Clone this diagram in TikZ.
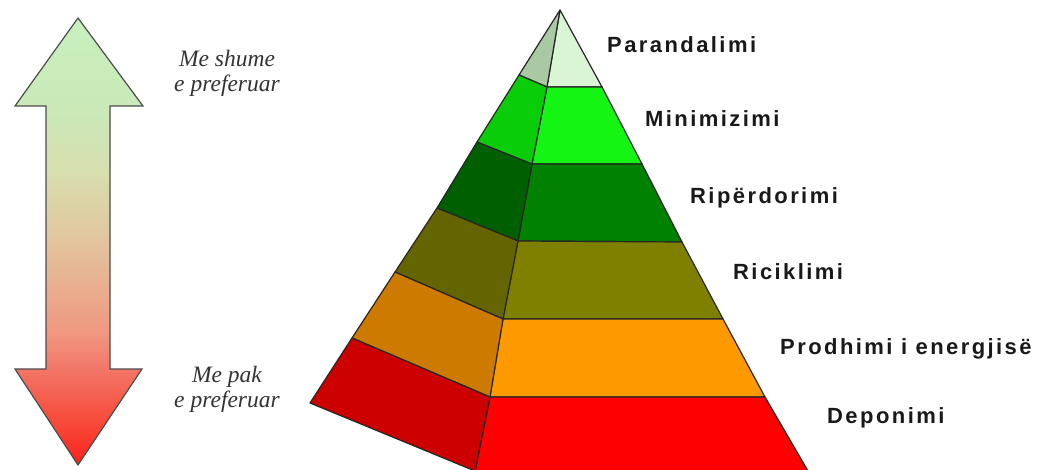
\documentclass[tikz,border=0pt]{standalone}
\usepackage{fontspec}
\setmainfont{Liberation Serif}
\newfontfamily\lblfont[LetterSpace=11]{Liberation Sans Bold}
\definecolor{sa}{RGB}{200,240,190}
\definecolor{sb}{RGB}{200,234,184}
\definecolor{sc}{RGB}{215,224,176}
\definecolor{sd}{RGB}{224,200,160}
\definecolor{se}{RGB}{232,176,144}
\definecolor{sf}{RGB}{240,152,128}
\definecolor{sg}{RGB}{242,120,104}
\definecolor{sh}{RGB}{248,64,48}
\definecolor{si}{RGB}{255,32,32}
\pgfdeclareverticalshading{arrshade}{100bp}{color(0bp)=(si); color(25bp)=(si); color(28.6bp)=(sh); color(36bp)=(sg); color(39.8bp)=(sf); color(45.4bp)=(se); color(51bp)=(sd); color(58.3bp)=(sc); color(65.8bp)=(sb); color(75bp)=(sa); color(100bp)=(sa)}
\definecolor{fa}{RGB}{217,245,213}\definecolor{la}{RGB}{169,201,163}
\definecolor{fb}{RGB}{20,245,20}\definecolor{lb}{RGB}{10,205,10}
\definecolor{fc}{RGB}{0,130,0}\definecolor{lc}{RGB}{0,95,0}
\definecolor{fd}{RGB}{128,128,0}\definecolor{ld}{RGB}{100,100,0}
\definecolor{fe}{RGB}{255,153,0}\definecolor{le}{RGB}{204,122,0}
\definecolor{ff}{RGB}{255,0,0}\definecolor{lf}{RGB}{204,0,0}
\tikzset{
  face/.style={draw=black!85, line width=1.2pt, line join=round},
  lbl/.style={anchor=base west, inner sep=0pt, text=black!90, font=\lblfont\fontsize{22}{26}\selectfont},
  pref/.style={align=center, inner sep=0pt, text=black!80, font=\itshape\fontsize{23.5}{25}\selectfont},
  bigarrow/.style={draw=black!70, line width=1.2pt, line join=miter, shading=arrshade},
}
\begin{document}
\begin{tikzpicture}[x=1pt,y=-1pt]
\useasboundingbox (0,0) rectangle (1039,469);
\clip (0,0) rectangle (1039,469);
% double arrow
\shadedraw[bigarrow] (78,18) -- (143,106) -- (110,106) -- (110,369) -- (142,369) -- (78,465)
  -- (15,369) -- (46,369) -- (46,106) -- (15,106) -- cycle;
\node[pref] (more) at (227,73) {Me shume\\e preferuar};
\node[pref] (less) at (227,389) {Me pak\\e preferuar};
% pyramid coordinates
\coordinate (A) at (560,10);
\coordinate (R1) at (602,87);\coordinate (R2) at (642,164);\coordinate (R3) at (682,242);
\coordinate (R4) at (723,319);\coordinate (R5) at (765,397);\coordinate (R6) at (808,471);
\coordinate (C1) at (547,87);\coordinate (C2) at (532,164);\coordinate (C3) at (518,241);
\coordinate (C4) at (503,319);\coordinate (C5) at (490,397);\coordinate (C6) at (475,471);
\coordinate (L1) at (519,75);\coordinate (L2) at (477,142);\coordinate (L3) at (437,208);
\coordinate (L4) at (395,272);\coordinate (L5) at (352,338);\coordinate (L6) at (310,403);
% front faces
\filldraw[face, fill=fa] (A) -- (R1) -- (C1) -- cycle;
\filldraw[face, fill=fb] (C1) -- (R1) -- (R2) -- (C2) -- cycle;
\filldraw[face, fill=fc] (C2) -- (R2) -- (R3) -- (C3) -- cycle;
\filldraw[face, fill=fd] (C3) -- (R3) -- (R4) -- (C4) -- cycle;
\filldraw[face, fill=fe] (C4) -- (R4) -- (R5) -- (C5) -- cycle;
\filldraw[face, fill=ff] (C5) -- (R5) -- (R6) -- (C6) -- cycle;
% left faces
\filldraw[face, fill=la] (A) -- (C1) -- (L1) -- cycle;
\filldraw[face, fill=lb] (L1) -- (C1) -- (C2) -- (L2) -- cycle;
\filldraw[face, fill=lc] (L2) -- (C2) -- (C3) -- (L3) -- cycle;
\filldraw[face, fill=ld] (L3) -- (C3) -- (C4) -- (L4) -- cycle;
\filldraw[face, fill=le] (L4) -- (C4) -- (C5) -- (L5) -- cycle;
\filldraw[face, fill=lf] (L5) -- (C5) -- (C6) -- (L6) -- cycle;
% labels
\node[lbl] (t1) at (607,52) {Parandalimi};
\node[lbl] (t2) at (645,126) {Minimizimi};
\node[lbl] (t3) at (690,203) {Ripërdorimi};
\node[lbl] (t4) at (733,279) {Riciklimi};
\node[lbl] (t5) at (780,354) {Prodhimi i energjisë};
\node[lbl] (t6) at (827,423) {Deponimi};
\end{tikzpicture}
\end{document}
